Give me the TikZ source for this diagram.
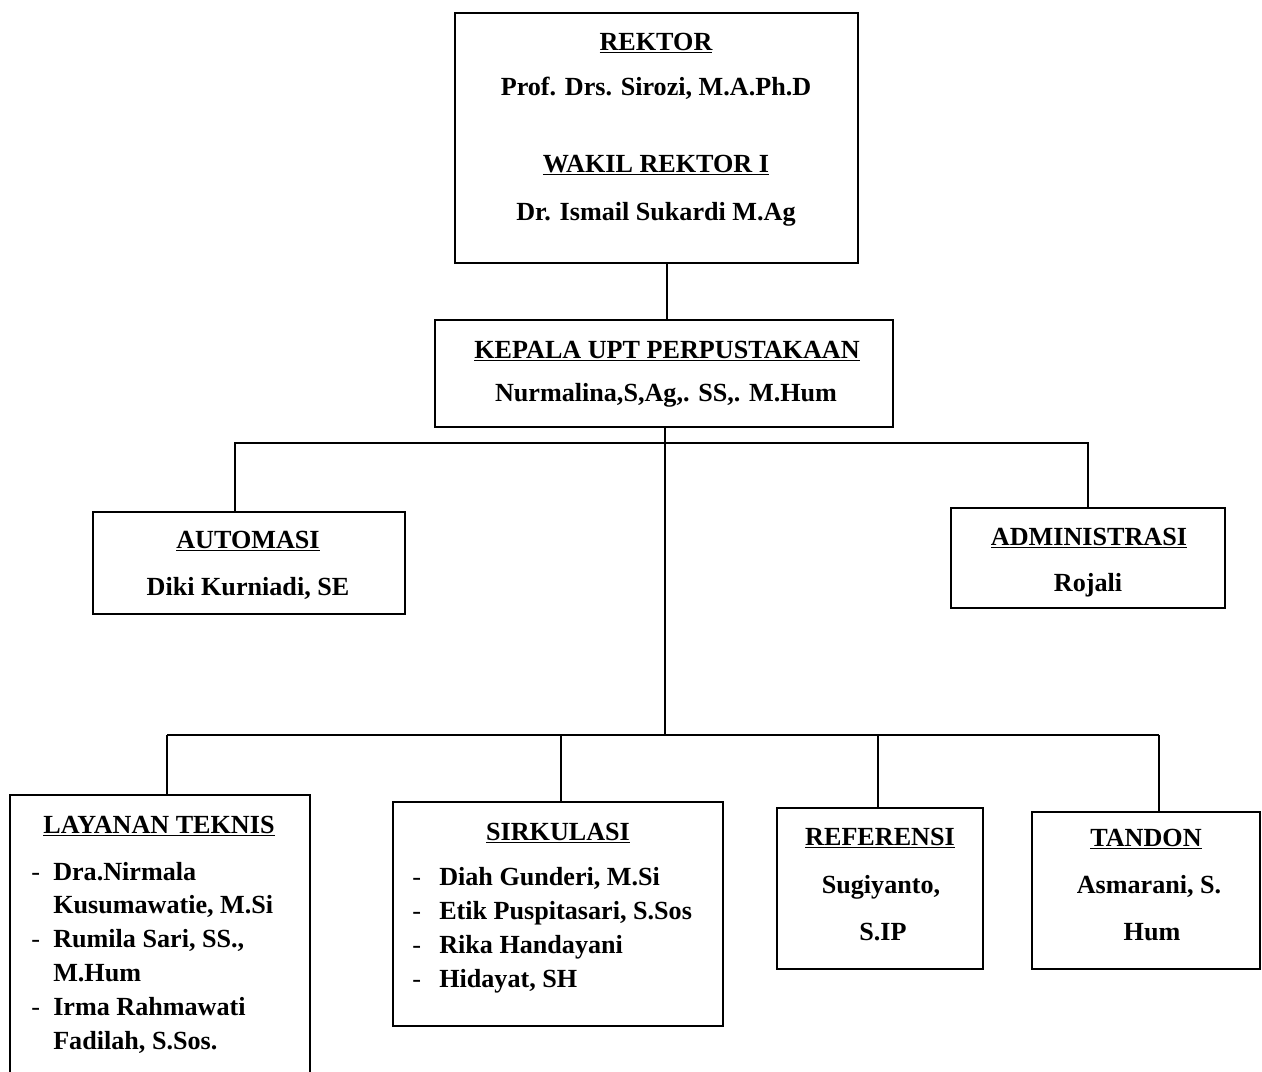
\documentclass[tikz,border=0pt]{standalone}
\usepackage{fontspec}
\setmainfont{Liberation Serif}
\newcommand{\myul}[1]{\setbox0\hbox{#1}\rlap{\rule[-2.6pt]{\wd0}{1.3pt}}\box0}
\begin{document}
\begin{tikzpicture}[x=0.75pt,y=-0.75pt,
  box/.style={draw,line width=1.5pt,inner sep=0pt,outer sep=0pt},
  wh/.style 2 args={minimum width=#1*0.75pt,minimum height=#2*0.75pt},
  txt/.style={font=\fontsize{19.6pt}{23pt}\selectfont\bfseries,inner sep=0pt,anchor=base},
  lt/.style={txt,anchor=base west},
  dsh/.style={font=\fontsize{19.6pt}{23pt}\selectfont,inner sep=0pt,anchor=base west},
  conn/.style={line width=1.3pt}]
\clip (0,0) rectangle (1262,1071);
\fill[white] (0,0) rectangle (1262,1071);
% boxes
\node[box,wh={403}{250}] (rektor) at (656.5,138) {};
\node[box,wh={458}{107}] (kepala) at (664,373.5) {};
\node[box,wh={312}{102}] (automasi) at (249,563) {};
\node[box,wh={274}{100}] (admin) at (1088,558) {};
\node[box,wh={300}{295}] (layanan) at (160,942.5) {};
\node[box,wh={330}{224}] (sirkulasi) at (558,914) {};
\node[box,wh={206}{161}] (referensi) at (880,888.5) {};
\node[box,wh={228}{157}] (tandon) at (1146,890.5) {};
% texts
\node[txt] (t1) at (656,50) {\myul{REKTOR}};
\node[txt] (t2) at (656,95) {Prof. Drs. Sirozi, M.A.Ph.D};
\node[txt] (t3) at (656,172) {\myul{WAKIL REKTOR I}};
\node[txt] (t4) at (656,220) {Dr. Ismail Sukardi M.Ag};
\node[txt] (t5) at (667,358) {\myul{KEPALA UPT PERPUSTAKAAN}};
\node[txt] (t6) at (666,401) {Nurmalina,S,Ag,. SS,. M.Hum};
\node[txt] (t7) at (248,548) {\myul{AUTOMASI}};
\node[txt] (t8) at (248,595) {Diki Kurniadi, SE};
\node[txt] (t9) at (1089,545) {\myul{ADMINISTRASI}};
\node[txt] (t10) at (1088,591) {Rojali};
\node[txt] (t11) at (159,833) {\myul{LAYANAN TEKNIS}};
\node[dsh] (d1) at (31,880) {-};
\node[lt] (l1) at (53,880) {Dra.Nirmala};
\node[lt] (l2) at (53,913.8) {Kusumawatie, M.Si};
\node[dsh] (d2) at (31,947.6) {-};
\node[lt] (l3) at (53,947.6) {Rumila Sari, SS.,};
\node[lt] (l4) at (53,981.4) {M.Hum};
\node[dsh] (d3) at (31,1015.2) {-};
\node[lt] (l5) at (53,1015.2) {Irma Rahmawati};
\node[lt] (l6) at (53,1049) {Fadilah, S.Sos.};
\node[txt] (t12) at (558,840) {\myul{SIRKULASI}};
\node[dsh] (d4) at (412,885) {-};
\node[lt] (s1t) at (439,885) {Diah Gunderi, M.Si};
\node[dsh] (d5) at (412,919.2) {-};
\node[lt] (s2t) at (439,919.2) {Etik Puspitasari, S.Sos};
\node[dsh] (d6) at (412,953.4) {-};
\node[lt] (s3t) at (439,953.4) {Rika Handayani};
\node[dsh] (d7) at (412,987.6) {-};
\node[lt] (s4t) at (439,987.6) {Hidayat, SH};
\node[txt] (t13) at (880,845) {\myul{REFERENSI}};
\node[txt] (t14) at (881,893) {Sugiyanto,};
\node[txt] (t15) at (883,940) {S.IP};
\node[txt] (t16) at (1146,846) {\myul{TANDON}};
\node[txt] (t17) at (1149,893) {Asmarani, S.};
\node[txt] (t18) at (1152,940) {Hum};
% connectors
\coordinate (c1) at (667,0);
\coordinate (c2) at (665,735);
\coordinate (ua) at (235,443);
\coordinate (b1) at (167,735);
\coordinate (b2) at (561,735);
\coordinate (b3) at (878,735);
\coordinate (b4) at (1159,735);
\draw[conn] (rektor.south -| c1) -- (kepala.north -| c1);
\draw[conn] (kepala.south -| c2) -- (c2);
\draw[conn] (automasi.north -| ua) -- (ua) -- (ua -| admin.north) -- (admin.north);
\draw[conn] (b1) -- (b4);
\draw[conn] (b1) -- (layanan.north -| b1);
\draw[conn] (b2) -- (sirkulasi.north -| b2);
\draw[conn] (b3) -- (referensi.north -| b3);
\draw[conn] (b4) -- (tandon.north -| b4);
\end{tikzpicture}
\end{document}
